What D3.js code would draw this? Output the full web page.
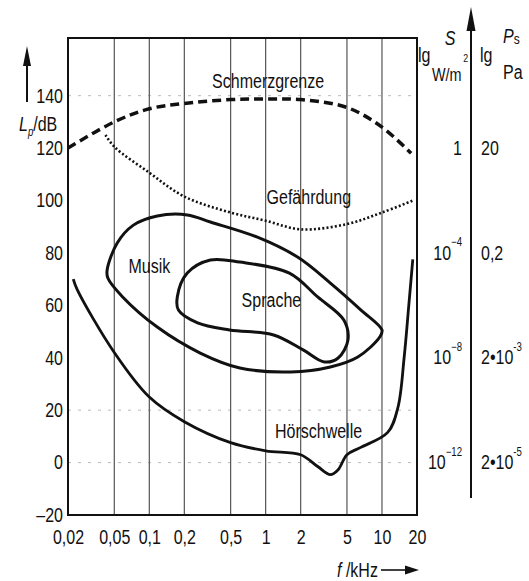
<!DOCTYPE html>
<html lang="de">

<head>
  <meta charset="UTF-8">
  <title>Hörfläche</title>
  <script src="https://cdn.jsdelivr.net/npm/d3@7.6.1/dist/d3.min.js"></script>
  <style>
    body { margin: 0; background: #fff; }
    svg { display: block; }
    text { font-family: "Liberation Sans", Arial, sans-serif; fill: #111; }
  </style>
</head>

<body>
  <div id="box"></div>
  <script>
    const width = 529
    const height = 581
    const margin = { left: 68, right: 112, top: 38, bottom: 65 }
    const narrow = 0.8   // schmale Schrift nachbilden

    // Achsen
    const freqTicks = [0.02, 0.05, 0.1, 0.2, 0.5, 1, 2, 5, 10, 20]
    const gridFreqs = [0.05, 0.1, 0.2, 0.5, 1, 2, 5, 10]
    const levelTicks = [-20, 0, 20, 40, 60, 80, 100, 120, 140]
    const faintLevels = [0, 20, 140]
    // rechte Skalen: Schallpegel -> Intensität / Schalldruck
    const rightLevels = [120, 80, 40, 0]
    const intensityBase = ['1', '10', '10', '10']
    const intensityExp = ['', '−4', '−8', '−12']
    const pressureBase = ['20', '0,2', '2•10', '2•10']
    const pressureExp = ['', '', '-3', '-5']

    // Kurven [f in kHz, Lp in dB]
    const schmerzgrenze = [[0.02, 120], [0.05, 130], [0.1, 135], [0.2, 137], [0.5, 138.5], [1, 138.7],
      [2, 138.5], [5, 135.5], [10, 128], [17.8, 118]]
    const gefaehrdung = [[0.042, 125], [0.05, 120.5], [0.1, 110.6], [0.2, 101.5], [0.5, 95.4], [1, 92.3],
      [2, 89], [5, 91], [10, 95.4], [18.5, 100]]
    const musik = [[0.0434, 73.5], [0.053, 83.8], [0.073, 90.6], [0.117, 94.1], [0.212, 94.5], [0.335, 91.8],
      [0.85, 86], [1.88, 78.4], [3.6, 68.5], [6.6, 58.2], [10, 50.6], [9.6, 48],
      [6.2, 40.3], [3.6, 36.5], [1.64, 34.6], [0.6, 36.1], [0.274, 41.8], [0.117, 51.7],
      [0.059, 63.2], [0.044, 70.4]]
    const sprache = [[0.174, 63.2], [0.212, 72.3], [0.335, 77.3], [0.6, 76.5], [1.6, 72.3], [2.8, 63.2],
      [4.7, 54.4], [5.1, 46.8], [4.2, 39.9], [3.2, 38.4], [2.1, 43], [1.17, 48.7], [0.49, 50.6],
      [0.26, 53.3], [0.178, 58.2]]
    const hoerschwelle = [[0.0222, 70], [0.024, 66], [0.05, 42], [0.1, 25], [0.2, 15.6], [0.5, 7.6],
      [1, 4.5], [2, 3], [2.8, -1.5], [3.6, -4.6], [4.2, -2.7], [5, 3], [6.5, 5.7], [11.2, 11.5],
      [13.7, 21], [15.5, 40], [17, 60], [18.4, 77.5]]

    const svg = d3.select('#box').append('svg')
      .attr('width', width)
      .attr('height', height)

    const xScale = d3.scaleLog().domain([0.02, 20]).range([margin.left, width - margin.right])
    const yScale = d3.scaleLinear().domain([-20, 162]).range([height - margin.bottom - 1, margin.top])
    const x0 = margin.left, x1 = width - margin.right
    const yTop = margin.top, yBot = height - margin.bottom - 1

    // Text an (x,y), horizontal gestaucht
    function label(x, y, size) {
      return svg.append('text')
        .attr('transform', `translate(${x},${y}) scale(${narrow},1)`)
        .attr('font-size', size)
    }

    // schwache Hilfslinien
    svg.append('g').selectAll('line').data(faintLevels).join('line')
      .attr('x1', x0).attr('x2', x1)
      .attr('y1', d => yScale(d)).attr('y2', d => yScale(d))
      .attr('stroke', '#bbb').attr('stroke-width', 1).attr('stroke-dasharray', '3,7')

    // senkrechte Gitterlinien
    svg.append('g').selectAll('line').data(gridFreqs).join('line')
      .attr('x1', d => xScale(d)).attr('x2', d => xScale(d))
      .attr('y1', yTop).attr('y2', yBot)
      .attr('stroke', '#555').attr('stroke-width', 1.2)

    // Rahmen
    svg.append('rect')
      .attr('x', x0).attr('y', yTop).attr('width', x1 - x0).attr('height', yBot - yTop)
      .attr('fill', 'none').attr('stroke', '#111').attr('stroke-width', 2)

    // X-Achse
    const xAxis = d3.axisBottom(xScale).tickValues(freqTicks).tickSize(0).tickPadding(15)
      .tickFormat(d => String(d).replace('.', ','))
    svg.append('g').call(xAxis)
      .attr('transform', `translate(0,${yBot})`)
      .call(g => g.select('.domain').remove())
      .selectAll('text').attr('font-size', 20).attr('font-family', null)
      .attr('transform', `scale(${narrow},1)`)

    // Y-Achse
    const yAxis = d3.axisLeft(yScale).tickValues(levelTicks).tickSize(0).tickPadding(5)
      .tickFormat(d => d < 0 ? '–' + Math.abs(d) : d)
    svg.append('g').call(yAxis)
      .attr('transform', `translate(${x0},0)`)
      .call(g => g.select('.domain').remove())
      .selectAll('text').attr('font-size', 20).attr('font-family', null)
      .attr('x', -5 / narrow).attr('transform', `scale(${narrow},1)`)

    // Kurven
    const line = d3.line().x(d => xScale(d[0])).y(d => yScale(d[1])).curve(d3.curveCatmullRom.alpha(0.5))
    const loop = d3.line().x(d => xScale(d[0])).y(d => yScale(d[1])).curve(d3.curveCatmullRomClosed.alpha(0.5))

    svg.append('path').attr('d', line(schmerzgrenze))
      .attr('fill', 'none').attr('stroke', '#111').attr('stroke-width', 3.5).attr('stroke-dasharray', '9,5')
    svg.append('path').attr('d', line(gefaehrdung))
      .attr('fill', 'none').attr('stroke', '#111').attr('stroke-width', 2.6).attr('stroke-dasharray', '2,2.2')
    svg.append('path').attr('d', loop(musik))
      .attr('fill', 'none').attr('stroke', '#111').attr('stroke-width', 3)
    svg.append('path').attr('d', loop(sprache))
      .attr('fill', 'none').attr('stroke', '#111').attr('stroke-width', 3)
    svg.append('path').attr('d', line(hoerschwelle))
      .attr('fill', 'none').attr('stroke', '#111').attr('stroke-width', 2.8)

    // Beschriftungen der Kurven
    const curveLabels = [['Schmerzgrenze', 1.05, 145.5], ['Gefährdung', 2.35, 101], ['Musik', 0.1, 75],
      ['Sprache', 1.12, 62], ['Hörschwelle', 2.85, 12]]
    curveLabels.forEach(d => {
      label(xScale(d[1]), yScale(d[2]), 20)
        .attr('text-anchor', 'middle').attr('dominant-baseline', 'central').text(d[0])
    })

    // linke Achsenbeschriftung
    svg.append('line').attr('x1', 27).attr('x2', 27).attr('y1', 62).attr('y2', 102)
      .attr('stroke', '#111').attr('stroke-width', 2)
    svg.append('path').attr('d', 'M27,46 L23,66 L31,66 Z').attr('fill', '#111')
    const lp = label(19, 131, 20)
    lp.append('tspan').attr('font-style', 'italic').text('L')
    lp.append('tspan').attr('font-size', 12).attr('dy', 5).attr('font-style', 'italic').text('p')
    lp.append('tspan').attr('dy', -5).text('/dB')

    // untere Achsenbeschriftung
    const fk = label(337, 577, 20)
    fk.append('tspan').attr('font-style', 'italic').text('f')
    fk.append('tspan').text(' /kHz')
    svg.append('line').attr('x1', 381).attr('x2', 408).attr('y1', 570).attr('y2', 570)
      .attr('stroke', '#111').attr('stroke-width', 1.6)
    svg.append('path').attr('d', 'M419,570 L405,565.5 L405,574.5 Z').attr('fill', '#111')

    // rechte Achse
    const xr = 471
    svg.append('line').attr('x1', xr).attr('x2', xr).attr('y1', 26).attr('y2', 498)
      .attr('stroke', '#111').attr('stroke-width', 2)
    svg.append('path').attr('d', `M${xr},7 L${xr - 4.5},31 L${xr + 4.5},31 Z`).attr('fill', '#111')

    rightLevels.forEach((d, i) => {
      const s = label(462, yScale(d), 20).attr('text-anchor', 'end').attr('dominant-baseline', 'central')
      s.append('tspan').text(intensityBase[i])
      s.append('tspan').attr('font-size', 12).attr('dy', -11).text(intensityExp[i])
      const p = label(481, yScale(d), 20).attr('dominant-baseline', 'central')
      p.append('tspan').text(pressureBase[i])
      p.append('tspan').attr('font-size', 12).attr('dy', -11).text(pressureExp[i])
    })

    // Kopf der rechten Skalen
    label(450, 45, 20).attr('text-anchor', 'middle').attr('font-style', 'italic').text('S')
    label(418, 62, 20).text('lg')
    const wm = label(432, 81, 18)
    wm.append('tspan').text('W/m')
    wm.append('tspan').attr('font-size', 11).attr('dy', -19).attr('dx', 2).text('2')
    label(480, 62, 20).text('lg')
    const ps = label(503, 43, 20)
    ps.append('tspan').attr('font-style', 'italic').text('P')
    ps.append('tspan').attr('font-size', 15).attr('dy', 1).text('s')
    label(503, 79, 20).text('Pa')
  </script>
</body>

</html>
